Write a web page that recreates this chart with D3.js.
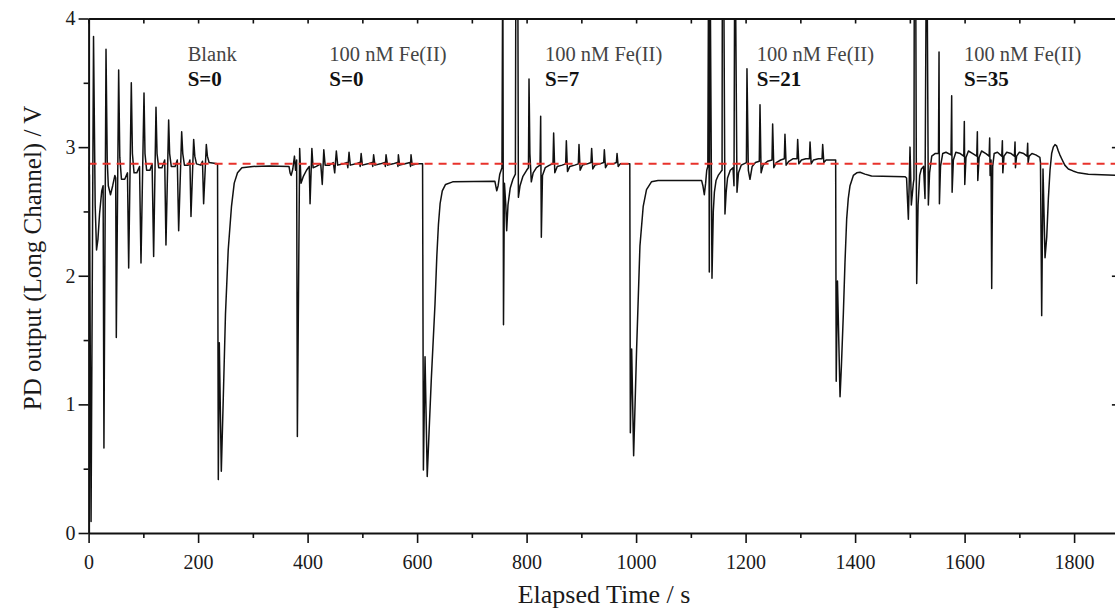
<!DOCTYPE html>
<html>
<head>
<meta charset="utf-8">
<script src="https://cdn.jsdelivr.net/npm/d3@7"></script>
<style>
  body { margin: 0; background: #fff; }
  svg text { font-family: "Liberation Serif", "DejaVu Serif", serif; }
</style>
</head>
<body>
<div id="chart"></div>
<script>
// Data: [elapsed time (s), PD output (V)], one array per run

const blankRun = [
  [0, 2.85], [1.5, 2.78], [4.5, 0.09], [9, 3.86], [12, 2.55], [14.5, 2.2], [17, 2.28], [20, 2.48], [24, 2.66], [26.5, 2.7],
  [28, 0.66], [31.8, 3.76], [34, 2.9], [36, 2.7], [40, 2.63], [44, 2.7], [48, 2.78], [49.5, 2.76],
  [50.6, 1.52], [54.9, 3.60], [57, 2.92], [60, 2.75], [66, 2.75], [71, 2.8],
  [73.2, 2.06], [78.0, 3.50], [80, 2.95], [83, 2.8], [88, 2.8], [93, 2.85],
  [95.7, 2.10], [101.2, 3.42], [103, 2.95], [106, 2.82], [112, 2.82], [116, 2.87],
  [118.8, 2.15], [123.1, 3.31], [125, 2.95], [128, 2.84], [134, 2.84], [139, 2.9],
  [141.3, 2.24], [146.2, 3.21], [148, 2.95], [151, 2.85], [158, 2.85], [162, 2.9],
  [164.5, 2.35], [170.0, 3.12], [172, 2.95], [175, 2.86], [182, 2.86], [185, 2.9],
  [187.0, 2.46], [191.9, 3.06], [194, 2.93], [197, 2.87], [205, 2.86], [208, 2.89],
  [210.1, 2.56], [215.0, 3.02], [217, 2.93], [220, 2.88], [235.5, 2.87],
  [236.9, 0.415], [238.7, 1.48], [242.4, 0.48], [246, 1.05], [250, 1.7], [255, 2.2], [261, 2.54],
  [266, 2.72], [272, 2.8], [280, 2.84], [300, 2.85], [330, 2.853]
]

const fe0Run = [
  [366, 2.85], [368, 2.8], [370, 2.78], [373, 2.83], [376, 2.93], [378, 2.82], [380, 2.9],
  [381.3, 0.75], [385.5, 2.99], [388, 2.72], [392, 2.77], [398, 2.82], [403, 2.85],
  [404.5, 2.56], [407.8, 2.99], [410, 2.84], [416, 2.85], [424, 2.87],
  [426.8, 2.71], [429.6, 2.98], [432, 2.86], [440, 2.86], [447, 2.88],
  [449.5, 2.8], [452.5, 2.97], [455, 2.86], [465, 2.87], [472, 2.88],
  [473.5, 2.84], [475.7, 2.96], [478, 2.86], [488, 2.87], [495, 2.88],
  [496, 2.85], [497.8, 2.95], [500, 2.86], [510, 2.87], [518, 2.88],
  [519, 2.85], [520.6, 2.94], [523, 2.86], [533, 2.87], [541, 2.88],
  [542, 2.85], [543.3, 2.94], [546, 2.86], [556, 2.87], [564, 2.88],
  [565, 2.85], [565.8, 2.94], [568, 2.86], [578, 2.87], [587, 2.88],
  [588, 2.85], [588.9, 2.94], [591, 2.86], [600, 2.87], [610, 2.87]
]

const fe7Run = [
  [611.5, 0.49], [614.5, 1.37], [618.5, 0.44], [622, 0.8], [626, 1.2], [632.7, 1.78], [636, 2.15],
  [639, 2.4], [642, 2.56], [646, 2.66], [652, 2.71], [665, 2.73], [742, 2.735],
  [745.5, 2.66], [748, 2.70], [751, 2.79], [755, 2.84], [756.5, 4.6], [757.8, 1.62], [759.5, 2.72],
  [762, 2.55], [763.6, 2.35], [766, 2.55], [770, 2.68], [775, 2.75], [779.5, 2.79],
  [780.5, 4.6], [783.8, 4.6], [785, 2.61], [788, 2.7], [793, 2.77], [800, 2.82], [803.4, 2.84],
  [804.4, 3.53], [806, 2.95], [808.6, 2.73], [812, 2.8], [818, 2.84], [824.5, 2.86],
  [825.7, 3.24], [826.9, 2.30], [829, 2.78], [834, 2.84], [842, 2.86], [848.2, 2.87],
  [849.4, 3.11], [851.5, 2.8], [856, 2.85], [865, 2.86], [871.4, 2.87],
  [872.6, 3.05], [874.7, 2.81], [879, 2.85], [888, 2.86], [894.5, 2.87],
  [895.7, 3.02], [897.8, 2.82], [902, 2.86], [911, 2.87], [917.6, 2.88],
  [918.8, 2.99], [920.9, 2.83], [925, 2.86], [934, 2.87], [940.8, 2.88],
  [942, 2.98], [944.1, 2.84], [948, 2.87], [958, 2.87], [964, 2.88],
  [965.2, 2.95], [967.3, 2.85], [971, 2.87], [988.5, 2.87]
]

const fe21Run = [
  [989.5, 0.78], [991.9, 1.43], [995.5, 0.60], [1001, 1.44], [1007, 2.23], [1013, 2.54], [1019, 2.67],
  [1028, 2.73], [1040, 2.74], [1119.7, 2.74],
  [1122, 2.7], [1124.6, 2.63], [1127, 2.72], [1129, 2.82], [1131, 2.85], [1132.5, 4.6], [1133.7, 2.03],
  [1135, 4.6], [1138.6, 1.98], [1141, 2.5], [1143, 2.65], [1146, 2.74], [1150, 2.78], [1155, 2.81],
  [1157, 2.82], [1157.6, 4.6], [1159.8, 4.6], [1162.3, 2.48], [1164.5, 2.65], [1167, 2.76], [1172, 2.82],
  [1177, 2.84], [1178.8, 2.7], [1180.2, 4.6], [1181, 4.6], [1184.3, 2.65], [1187, 2.8], [1192, 2.86],
  [1201.5, 2.88], [1202.5, 3.61], [1205, 2.82], [1208, 2.75], [1212, 2.85], [1218, 2.88], [1225, 2.89],
  [1226.3, 3.33], [1228.3, 2.80], [1232, 2.86], [1240, 2.89], [1248.2, 2.9],
  [1249.4, 3.18], [1251.5, 2.84], [1256, 2.88], [1264, 2.9], [1270.7, 2.91],
  [1271.9, 3.10], [1274, 2.86], [1279, 2.89], [1287, 2.91], [1293.9, 2.91],
  [1295.1, 3.06], [1297.2, 2.87], [1302, 2.9], [1310, 2.91], [1316.5, 2.91],
  [1317.7, 3.04], [1319.8, 2.87], [1324, 2.9], [1333, 2.91], [1339.6, 2.91],
  [1340.8, 3.02], [1342.9, 2.88], [1347, 2.9], [1364.5, 2.9]
]

const fe35Run = [
  [1365.5, 1.18], [1367.8, 1.96], [1372.5, 1.06], [1375, 1.3], [1378.5, 1.70], [1381.5, 2.1], [1384.6, 2.44],
  [1387.5, 2.6], [1390.7, 2.70], [1396.8, 2.78], [1403, 2.8], [1409, 2.805], [1418, 2.79], [1430, 2.775], [1491, 2.77],
  [1494, 2.76], [1497.3, 2.44], [1500.3, 3.0], [1502.7, 2.55], [1506.4, 2.72], [1507.5, 2.75], [1508.2, 4.6],
  [1510.5, 4.6], [1512.5, 1.94], [1515, 2.55], [1518, 2.78], [1521, 2.83], [1525, 2.85], [1527.7, 2.6],
  [1530.2, 4.6], [1531.2, 4.6], [1533.8, 2.55], [1536, 2.8], [1540, 2.93], [1546, 2.95], [1552.3, 2.95],
  [1553.3, 3.74], [1554, 2.56], [1556, 2.85], [1560, 2.95], [1566, 2.96], [1575.2, 2.94],
  [1576.4, 3.40], [1577.2, 2.65], [1579.5, 2.9], [1584, 2.96], [1592, 2.95], [1598.5, 2.93],
  [1599.5, 3.20], [1600.3, 2.71], [1602.5, 2.92], [1607, 2.97], [1615, 2.95], [1622.2, 2.93],
  [1623.3, 3.12], [1624.1, 2.74], [1626.5, 2.92], [1631, 2.97], [1639, 2.95], [1644.8, 2.93],
  [1645.8, 3.07], [1646.6, 2.78], [1648.3, 2.9], [1649.5, 1.90], [1651.3, 2.85], [1654, 2.95], [1660, 2.96],
  [1667.9, 2.93], [1669, 3.05], [1669.8, 2.80], [1672, 2.93], [1677, 2.96], [1685, 2.95], [1691, 2.93],
  [1692.1, 3.04], [1692.9, 2.84], [1695, 2.93], [1700, 2.96], [1708, 2.95], [1714.1, 2.93],
  [1715.2, 3.03], [1716, 2.88], [1718, 2.93], [1723, 2.95], [1730, 2.94], [1737.5, 2.92],
  [1738.6, 2.88], [1740.8, 1.69], [1743.2, 2.83], [1746.9, 2.14], [1750, 2.3], [1753, 2.6], [1756, 2.82],
  [1759, 2.95], [1762, 3.0], [1765.1, 3.02], [1768, 3.01], [1771.2, 2.97], [1774, 2.94], [1777.3, 2.91],
  [1783, 2.86], [1789.5, 2.83], [1798, 2.815], [1807.8, 2.80], [1826, 2.79], [1850, 2.785], [1880, 2.78]
]

const referenceLevel = 2.87

const conditionNames = ["Blank", "100 nM Fe(II)", "100 nM Fe(II)", "100 nM Fe(II)", "100 nM Fe(II)"]
const slopeLabels = ["S=0", "S=0", "S=7", "S=21", "S=35"]
const labelTimes = [181, 439.6, 833.6, 1220.3, 1598.9]

const xMajorTicks = [0, 200, 400, 600, 800, 1000, 1200, 1400, 1600, 1800]
const xMinorTicks = [100, 300, 500, 700, 900, 1100, 1300, 1500, 1700]
const yMajorTicks = [0, 1, 2, 3, 4]
const yMinorTicks = [0.5, 1.5, 2.5, 3.5]

// Constants

const width = 1115
const height = 611
const plotLeft = 88.6
const plotTop = 18.5
const plotBottom = 533
const pxPerSecond = 0.5475
const xMax = 1880

const svg = d3.select("#chart").append("svg").attr("width", width).attr("height", height)

// Scales

const x = d3.scaleLinear().domain([0, xMax]).range([plotLeft, plotLeft + xMax * pxPerSecond])
const y = d3.scaleLinear().domain([0, 4]).range([plotBottom, plotTop])

svg.append("clipPath").attr("id", "plotClip")
  .append("rect")
    .attr("x", x(0)).attr("y", y(4))
    .attr("width", x(xMax) - x(0)).attr("height", y(0) - y(4))

// Trace

const trace = [...blankRun, ...fe0Run, ...fe7Run, ...fe21Run, ...fe35Run]
const line = d3.line().x(d => x(d[0])).y(d => y(d[1]))

const elementGroup = svg.append("g").attr("clip-path", "url(#plotClip)")
elementGroup.append("path")
  .datum(trace)
  .attr("fill", "none")
  .attr("stroke", "#111")
  .attr("stroke-width", 1.5)
  .attr("stroke-linejoin", "round")
  .attr("d", line)

elementGroup.append("line")
  .attr("x1", x(0)).attr("x2", x(xMax))
  .attr("y1", y(referenceLevel)).attr("y2", y(referenceLevel))
  .attr("stroke", "#e8322b")
  .attr("stroke-width", 2)
  .attr("stroke-dasharray", "8,6")

// Axes

const axisgroup = svg.append("g").attr("id", "axisgroup")

const xAxisGroup = axisgroup.append("g").attr("transform", `translate(0, ${y(0)})`)
xAxisGroup.call(d3.axisBottom(x).tickValues(xMajorTicks).tickSize(10).tickSizeOuter(0).tickPadding(12).tickFormat(d3.format("d")))
axisgroup.append("g").attr("class", "minor").attr("transform", `translate(0, ${y(0)})`)
  .call(d3.axisBottom(x).tickValues(xMinorTicks).tickSize(5).tickSizeOuter(0).tickFormat(""))

const yAxisGroup = axisgroup.append("g").attr("transform", `translate(${x(0)}, 0)`)
yAxisGroup.call(d3.axisLeft(y).tickValues(yMajorTicks).tickSize(10).tickSizeOuter(0).tickPadding(3).tickFormat(d3.format("d")))
axisgroup.append("g").attr("class", "minor").attr("transform", `translate(${x(0)}, 0)`)
  .call(d3.axisLeft(y).tickValues(yMinorTicks).tickSize(5).tickSizeOuter(0).tickFormat(""))

axisgroup.append("g").attr("transform", `translate(0, ${y(4)})`)
  .call(d3.axisTop(x).tickValues([...xMajorTicks, ...xMinorTicks]).tickSize(-5).tickSizeOuter(0).tickFormat(""))

axisgroup.append("g").attr("transform", `translate(${x(xMax)}, 0)`)
  .call(d3.axisRight(y).tickValues([1, 2, 3]).tickSize(-6).tickSizeOuter(0).tickFormat(""))

axisgroup.selectAll(".minor .domain").remove()
axisgroup.selectAll(".domain").attr("stroke", "#111").attr("stroke-width", 2)
axisgroup.selectAll(".tick line").attr("stroke", "#111").attr("stroke-width", 1.6)
axisgroup.selectAll(".tick text").attr("fill", "#1a1a1a").style("font-size", "20px")
  .style("font-family", "'Liberation Serif', serif")

// Axis titles

svg.append("text")
  .attr("x", 604)
  .attr("y", 603)
  .attr("text-anchor", "middle")
  .attr("fill", "#1a1a1a")
  .style("font-size", "26px")
  .text("Elapsed Time / s")

svg.append("text")
  .attr("transform", "translate(41, 258) rotate(-90)")
  .attr("text-anchor", "middle")
  .attr("fill", "#1a1a1a")
  .style("font-size", "25px")
  .text("PD output (Long Channel) / V")

// Run labels

const labelGroup = svg.append("g")
labelGroup.selectAll("text.cond").data(conditionNames)
  .join("text")
    .attr("class", "cond")
    .attr("x", (d, i) => x(labelTimes[i]))
    .attr("y", 61)
    .attr("fill", "#444")
    .style("font-size", "20.5px")
    .text(d => d)

labelGroup.selectAll("text.slope").data(slopeLabels)
  .join("text")
    .attr("class", "slope")
    .attr("x", (d, i) => x(labelTimes[i]))
    .attr("y", 86)
    .attr("fill", "#111")
    .style("font-size", "21px")
    .style("font-weight", "bold")
    .text(d => d)
</script>
</body>
</html>
